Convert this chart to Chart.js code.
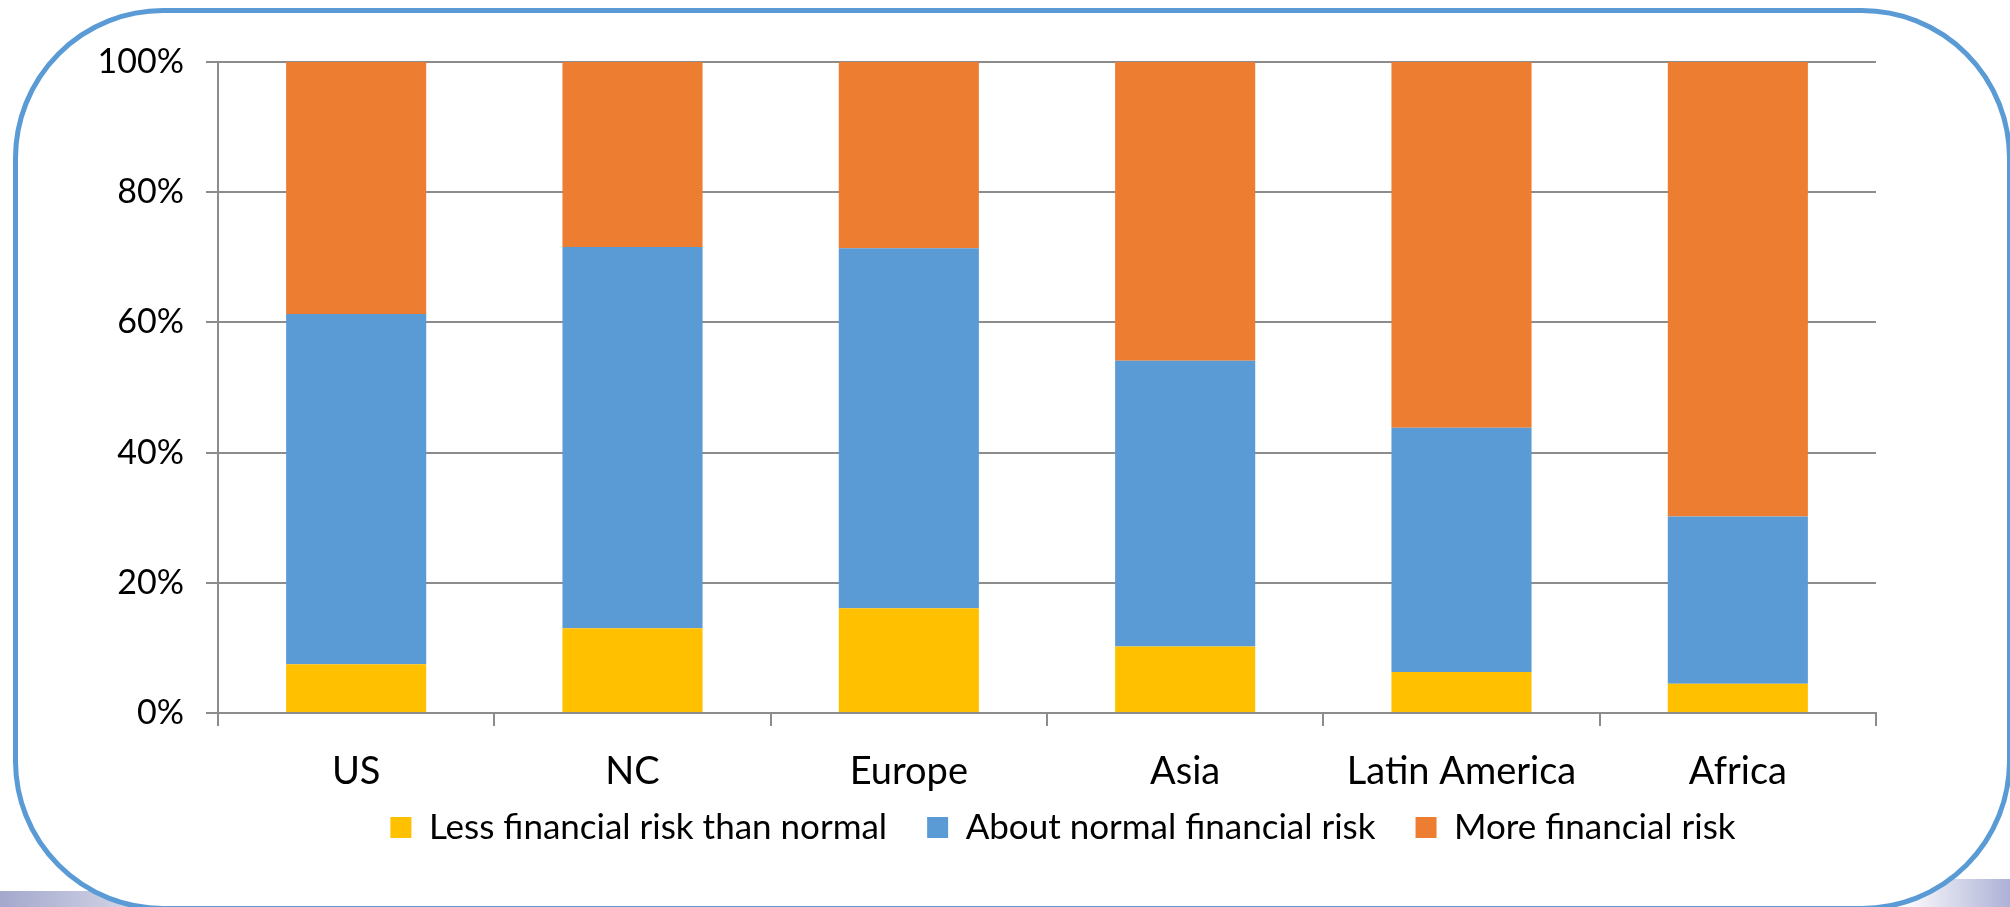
<!DOCTYPE html>
<html>
<script src="https://cdn.jsdelivr.net/npm/chart.js@4/dist/chart.umd.min.js"></script>

<body style="margin: 0; background: white; overflow: hidden;">
  <div id="frame">
    <div class="shade" style="left: 0; bottom: 0; width: 260px; height: 16px; background: linear-gradient(to right, #a4a8cc, rgba(255,255,255,0));"></div>
    <div class="shade" style="right: 0; bottom: 0; width: 110px; height: 28px; background: linear-gradient(to left, #adb1d6, rgba(255,255,255,0));"></div>
    <div id="box"></div>
    <canvas id="risk" width="2010" height="907"></canvas>
  </div>
  <style>
    #frame { position: relative; width: 2010px; height: 907px; }
    .shade { position: absolute; }
    #box {
      position: absolute; left: 13px; top: 8px; width: 1989px; height: 893px;
      border: 5px solid #5b9bd5; border-radius: 150px; background: white;
    }
    #risk { position: absolute; left: 0; top: 0; }
  </style>
  <script>
    const regions = ["US", "NC", "Europe", "Asia", "Latin America", "Africa"];
    const lessRisk = [7.5, 13.0, 16.1, 10.2, 6.3, 4.5];
    const normalRisk = [53.8, 58.6, 55.3, 43.9, 37.5, 25.7];
    const moreRisk = [38.7, 28.4, 28.6, 45.9, 56.2, 69.8];
    const yTicks = [0, 20, 40, 60, 80, 100];

    const gridGray = "#8c8c8c";

    // legend padding is wide to space the items out; pull the row back up under the labels
    const liftLegend = {
      id: "liftLegend",
      afterLayout(chart) {
        const lg = chart.legend;
        lg.top -= 33;
        lg.bottom -= 33;
        lg.left += 16;
        lg.right += 16;
      },
    };

    new Chart("risk", {
      type: "bar",
      data: {
        labels: regions,
        datasets: [
          { label: "Less financial risk than normal", data: lessRisk, backgroundColor: "#ffc000" },
          { label: "About normal financial risk", data: normalRisk, backgroundColor: "#5b9bd5" },
          { label: "More financial risk", data: moreRisk, backgroundColor: "#ed7d31" },
        ],
      },
      plugins: [liftLegend],
      options: {
        responsive: false,
        animation: false,
        layout: { padding: { left: 20, right: 134, top: 62, bottom: 19 } },
        datasets: { bar: { barPercentage: 0.507, categoryPercentage: 1 } },
        plugins: {
          tooltip: { enabled: false },
          legend: {
            position: "bottom",
            fullSize: false,
            labels: { font: { family: "Lato", size: 35 }, color: "#000", boxWidth: 21, boxHeight: 21, padding: 40 },
          },
        },
        scales: {
          x: {
            stacked: true,
            border: { color: gridGray, width: 2 },
            grid: { display: true, drawOnChartArea: false, color: gridGray, lineWidth: 2, tickLength: 13, offset: true },
            ticks: { font: { family: "Lato", size: 38 }, color: "#000", padding: 23 },
            afterFit: (s) => { s.height = 90; },
          },
          y: {
            stacked: true,
            min: 0,
            max: 100,
            afterBuildTicks: (s) => { s.ticks = yTicks.map((v) => ({ value: v })); },
            border: { color: gridGray, width: 2 },
            grid: { color: gridGray, lineWidth: 2, tickLength: 12 },
            ticks: { font: { family: "Lato", size: 34 }, color: "#000", padding: 22, callback: (v) => v + "%" },
            afterFit: (s) => { s.width = 198; },
          },
        },
      },
    });
  </script>
</body>

</html>
